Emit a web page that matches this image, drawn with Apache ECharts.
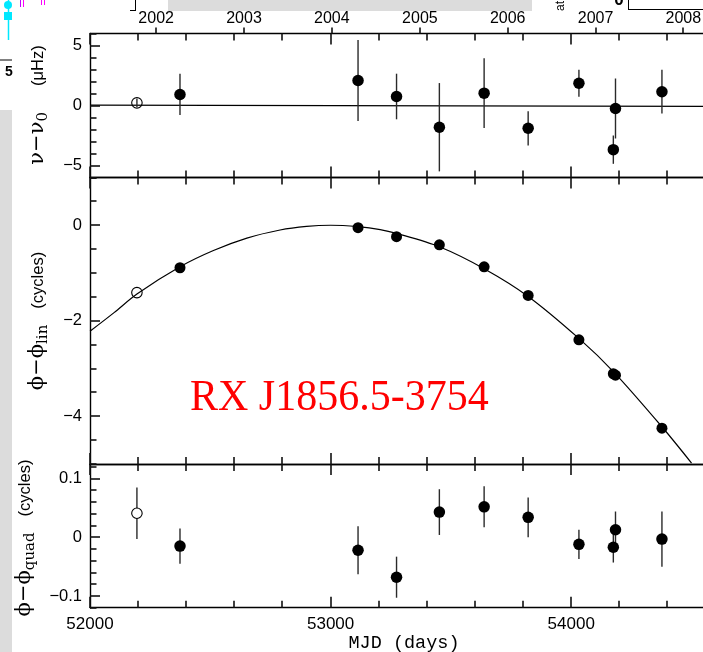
<!DOCTYPE html>
<html><head><meta charset="utf-8">
<script src="https://cdn.jsdelivr.net/npm/echarts@6/dist/echarts.min.js"></script>
<style>html,body{margin:0;padding:0;background:#fff}#c{width:703px;height:652px}</style>
</head><body><div id="c"></div>
<script>
// ---- data ----
const mjdObs   = [52374, 53114, 53274, 53452, 53638, 53821, 54032, 54175, 54184, 54377];
const mjdOpen  = [52195];
const freqVals = [0.92, 2.08, 0.75, -1.81, 1.03, -1.90, 1.85, -3.68, -0.25, 1.15];
const freqErr  = [1.72, 3.37, 1.90, 3.68, 2.90, 1.43, 1.12, 1.18, 2.50, 1.82];
const freqOpen = [0.22];
const freqOpenErr = [0.35];
const freqFitMJD  = [52000, 54610];
const freqFitVals = [0.03, -0.08];
const phaseVals = [-0.89, -0.05, -0.24, -0.41, -0.87, -1.47, -2.40, -3.11, -3.14, -4.25];
const phaseOpen = [-1.41];
const phaseFitMJD  = [52000, 52100, 52195, 52374, 52513, 52652, 52790, 52900, 53000, 53114, 53206, 53274, 53452, 53638, 53821, 54032, 54180, 54377, 54500];
const phaseFitVals = [-2.22, -1.83, -1.44, -0.87, -0.53, -0.27, -0.10, -0.025, 0.00, -0.03, -0.09, -0.17, -0.45, -0.91, -1.49, -2.37, -3.09, -4.22, -4.98];
const residVals = [-0.015, -0.022, -0.068, 0.043, 0.052, 0.034, -0.012, -0.017, 0.013, -0.003];
const residErr  = [0.030, 0.041, 0.035, 0.039, 0.035, 0.034, 0.025, 0.026, 0.031, 0.047];
const residOpen = [0.041];
const residOpenErr = [0.044];
const mjdTicks   = [52000, 53000, 54000];
const yearLabels = ['2002', '2003', '2004', '2005', '2006', '2007', '2008'];
const yearMJD    = [52275, 52640, 53005, 53371, 53736, 54101, 54466];
const freqTicks  = [-5, 0, 5];
const phaseTicks = [-4, -2, 0];
const residTicks = [-0.1, 0, 0.1];

// ---- layout ----
const XMIN = 52000, XMAX = 54610;
const AX = '#000';
const GRIDS = [
  {left: 90, top: 33.5, width: 628, height: 144},
  {left: 90, top: 177.5, width: 628, height: 286.5},
  {left: 90, top: 464, width: 628, height: 143.7}
];
const PANELS = [
  {min: -6, max: 6, minor: 1, majors: freqTicks},
  {min: -5, max: 1, minor: 0.5, majors: phaseTicks},
  {min: -0.12, max: 0.125, minor: 0.02, majors: residTicks}
];
const fmtNum = v => (v < 0 ? '\u2212' + String(Math.abs(+(+v).toFixed(6))) : String(+(+v).toFixed(6)));
function steps(a, b, s) { const out = []; const n = Math.floor((b - a) / s + 1e-9); for (let i = 0; i <= n; i++) out.push(+(a + i * s).toFixed(6)); return out; }
const xMinor = steps(52000, 54600, 200);
const noLabel = {show: false};

const xAxis = [];
for (let g = 0; g < 3; g++) {
  ['bottom', 'top'].forEach(pos => {
    const lab = (g === 2 && pos === 'bottom');
    xAxis.push({type: 'value', gridIndex: g, position: pos, min: XMIN, max: XMAX, interval: 200, splitLine: {show: false},
      axisLine: {show: true, onZero: false, lineStyle: {color: AX, width: 1.4}},
      axisTick: {show: false},
      axisLabel: lab ? {show: true, customValues: mjdTicks, margin: 8, color: '#000', fontFamily: 'Liberation Sans', fontSize: 17,
        formatter: v => String(v)} : noLabel,
      name: lab ? 'MJD (days)' : '', nameLocation: 'middle', nameGap: 26,
      nameTextStyle: {color: '#000', fontFamily: 'Liberation Mono', fontSize: 18.5}});
  });
}
xAxis.push({type: 'value', gridIndex: 0, position: 'top', min: XMIN, max: XMAX, interval: 200, splitLine: {show: false},
  axisLine: {show: false, onZero: false}, axisTick: {show: false},
  axisLabel: {show: true, customValues: yearMJD, margin: 7, color: '#000', fontFamily: 'Liberation Sans', fontSize: 16,
    formatter: v => yearLabels[yearMJD.indexOf(v)] || ''}});

const yAxis = PANELS.map((p, g) => ({type: 'value', gridIndex: g, position: 'left', min: p.min, max: p.max, interval: p.minor,
  splitLine: {show: false},
  axisLine: {show: true, onZero: false, lineStyle: {color: AX, width: 1.4}},
  axisTick: {show: false},
  axisLabel: {show: true, customValues: p.majors, margin: 8, color: '#000', fontFamily: 'Liberation Sans', fontSize: 16.5, formatter: fmtNum}}));

const XI = [0, 2, 4], YI = [0, 1, 2];

function errSeries(gi, mjd, vals, errs) {
  return {type: 'custom', xAxisIndex: XI[gi], yAxisIndex: YI[gi], silent: true, z: 2,
    data: mjd.map((m, i) => [m, vals[i] - errs[i], vals[i] + errs[i]]),
    encode: {x: 0, y: [1, 2]},
    renderItem: (params, api) => {
      const a = api.coord([api.value(0), api.value(1)]);
      const b = api.coord([api.value(0), api.value(2)]);
      return {type: 'line', shape: {x1: a[0], y1: a[1], x2: b[0], y2: b[1]},
        style: {stroke: '#2a2a2a', lineWidth: 1.4}};
    }};
}
function pts(gi, mjd, vals, open, size) {
  return {type: 'scatter', xAxisIndex: XI[gi], yAxisIndex: YI[gi], z: 4, silent: true,
    symbol: 'circle', symbolSize: size,
    data: mjd.map((m, i) => [m, vals[i]]),
    itemStyle: open ? {color: gi === 2 ? '#fff' : 'rgba(0,0,0,0)', borderColor: '#000', borderWidth: 1.1, opacity: 1}
                    : {color: '#000', borderWidth: 0, opacity: 1}};
}

const series = [
  {type: 'line', xAxisIndex: XI[0], yAxisIndex: YI[0], showSymbol: false, silent: true, z: 1,
    data: freqFitMJD.map((m, i) => [m, freqFitVals[i]]), lineStyle: {color: '#000', width: 1.2}},
  errSeries(0, mjdObs, freqVals, freqErr),
  errSeries(0, mjdOpen, freqOpen, freqOpenErr),
  pts(0, mjdObs, freqVals, false, 11.5),
  pts(0, mjdOpen, freqOpen, true, 10.5),
  {type: 'line', xAxisIndex: XI[1], yAxisIndex: YI[1], showSymbol: false, silent: true, z: 1, smooth: 0.3,
    data: phaseFitMJD.map((m, i) => [m, phaseFitVals[i]]), lineStyle: {color: '#000', width: 1.2}},
  pts(1, mjdObs, phaseVals, false, 11),
  pts(1, mjdOpen, phaseOpen, true, 10.5),
  errSeries(2, mjdObs, residVals, residErr),
  errSeries(2, mjdOpen, residOpen, residOpenErr),
  pts(2, mjdObs, residVals, false, 11.5),
  pts(2, mjdOpen, residOpen, true, 10.5)
];

const greek = {fontFamily: 'DejaVu Serif', fontSize: 21, lineHeight: 26, fill: '#000'};
const sub = {fontFamily: 'DejaVu Serif', fontSize: 15, lineHeight: 12, verticalAlign: 'bottom', fill: '#000'};
const par = {fontFamily: 'Liberation Sans', fontSize: 16.5, lineHeight: 26, fill: '#000'};
function vlabel(x, y, text, gap) {
  return {type: 'text', x: x, y: y, rotation: Math.PI / 2, silent: true,
    style: {text: text, align: 'center', verticalAlign: 'middle',
      rich: {g: greek, s: sub, p: par, sp: {width: gap, lineHeight: 26}}}};
}
const seg = (x1, y1, x2, y2, c, w) => ({type: 'line', silent: true, z: 50, shape: {x1: x1, y1: y1, x2: x2, y2: y2}, style: {stroke: c || '#000', lineWidth: w || 1}});

const baseGraphic = [
  {type: 'rect', shape: {x: 0, y: 110, width: 12, height: 542}, style: {fill: '#dcdcdc'}, silent: true},
  {type: 'rect', shape: {x: 168, y: 0, width: 364, height: 11}, style: {fill: '#dcdcdc'}, silent: true},
  seg(0, 60, 12, 60),
  {type: 'text', x: 9, y: 72, silent: true, style: {text: '5', fontFamily: 'Liberation Sans', fontWeight: 'bold', fontSize: 14, align: 'center', verticalAlign: 'middle', fill: '#000'}},
  seg(135.5, 0, 135.5, 10), seg(130, 10.5, 136, 10.5),
  {type: 'text', x: 561, y: 6, rotation: Math.PI / 2, silent: true, style: {text: 'at', fontFamily: 'Liberation Sans', fontSize: 12, align: 'center', verticalAlign: 'middle', fill: '#000'}},
  {type: 'text', x: 619, y: 0, silent: true, style: {text: '0', fontFamily: 'Liberation Sans', fontWeight: 'bold', fontSize: 17, align: 'center', verticalAlign: 'middle', fill: '#000'}},
  seg(628.5, 0, 628.5, 10), seg(628, 9.5, 703, 9.5),
  seg(8.5, 0, 8.5, 40, '#00e8ff', 1.5),
  {type: 'circle', silent: true, shape: {cx: 8, cy: 5, r: 4}, style: {fill: '#00e8ff'}},
  {type: 'rect', silent: true, shape: {x: 4, y: 12, width: 8, height: 8}, style: {fill: '#00e8ff'}},
  seg(20.5, 0, 20.5, 7, '#c000ff'), seg(23.5, 0, 23.5, 7, '#ff00ff'),
  seg(41.5, 0, 41.5, 5, '#ff00ff'), seg(44.5, 0, 44.5, 5, '#ff00ff'),
  vlabel(38, 105, '{g|\u03bd\u2212\u03bd}{s|0}{sp| }{p|(\u03bcHz)}', 26),
  vlabel(38, 321, '{g|\u03d5\u2212\u03d5}{s|lin}{sp| }{p|(cycles)}', 16),
  vlabel(25, 538, '{g|\u03d5\u2212\u03d5}{s|quad}{sp| }{p|(cycles)}', 16),
  {type: 'text', x: 190, y: 398, scaleY: 1.06, silent: true, z: 10,
    style: {text: 'RX J1856.5-3754', fontFamily: 'Liberation Serif', fontSize: 42, fill: '#ff0000', align: 'left', verticalAlign: 'middle'}}
];

const chart = echarts.init(document.getElementById('c'), null, {renderer: 'canvas'});
chart.setOption({
  animation: false,
  backgroundColor: '#fff',
  grid: GRIDS.map(g => Object.assign({outerBoundsMode: 'none', containLabel: false}, g)),
  xAxis: xAxis,
  yAxis: yAxis,
  series: series,
  graphic: baseGraphic
});

// tick marks: placed through the axes' scales (with a linear fallback on the same grid geometry)
function toPx(g, x, y) {
  let r = null;
  try { r = chart.convertToPixel({xAxisIndex: XI[g], yAxisIndex: YI[g]}, [x, y]); } catch (e) { r = null; }
  if (!r || !isFinite(r[0]) || !isFinite(r[1])) {
    const G = GRIDS[g], p = PANELS[g];
    r = [G.left + (x - XMIN) / (XMAX - XMIN) * G.width, G.top + (p.max - y) / (p.max - p.min) * G.height];
  }
  return r;
}
const isMaj = (arr, v) => arr.some(m => Math.abs(m - v) < 1e-9);
const ticks = [];
const TW = 1.6, TC = '#111';
PANELS.forEach((p, g) => {
  xMinor.forEach(v => {
    const L = isMaj(mjdTicks, v) ? 11 : 7;
    const b = toPx(g, v, p.min), t = toPx(g, v, p.max);
    const x = Math.round(b[0]);
    ticks.push(seg(x, b[1], x, b[1] - L, TC, TW));
    ticks.push(seg(x, t[1], x, t[1] + L, TC, TW));
  });
  steps(p.min, p.max, p.minor).forEach(v => {
    const L = isMaj(p.majors, v) ? 10 : 6.5;
    const c = toPx(g, XMIN, v);
    const y = Math.round(c[1]);
    ticks.push(seg(c[0], y, c[0] + L, y, TC, TW));
  });
  if (g === 0) {
    yearMJD.forEach(v => {
      const t = toPx(g, v, p.max);
      const x = Math.round(t[0]);
      ticks.push(seg(x, t[1], x, t[1] - 6, TC, TW));
    });
  }
});
chart.setOption({graphic: {elements: baseGraphic.concat(ticks)}});
</script>
</body></html>
